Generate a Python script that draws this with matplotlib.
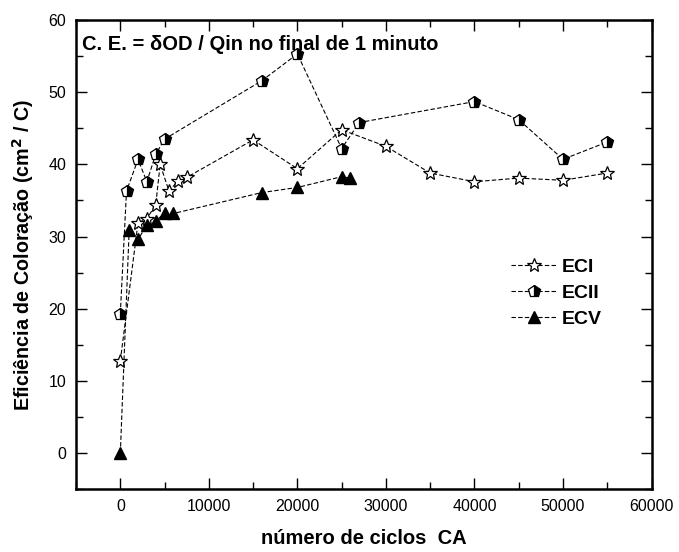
import matplotlib.pyplot as plt
from matplotlib.ticker import MultipleLocator

plt.rcParams['font.family'] = ['Liberation Sans', 'DejaVu Sans']

# ECI (stars)
eci_x = [0, 2000, 3000, 4000, 4500, 5500, 6500, 7500, 15000, 20000,
         25000, 30000, 35000, 40000, 45000, 50000, 55000]
eci_y = [12.8, 31.9, 32.5, 34.4, 40.0, 36.3, 37.7, 38.2, 43.4, 39.4,
         44.8, 42.5, 38.8, 37.6, 38.1, 37.8, 38.8]

# ECII (half filled pentagons)
ecii_x = [0, 700, 2000, 3000, 4000, 5000, 16000, 20000, 25000, 27000,
          40000, 45000, 50000, 55000]
ecii_y = [19.3, 36.3, 40.7, 37.6, 41.4, 43.5, 51.6, 55.3, 42.2, 45.8,
          48.7, 46.2, 40.7, 43.1]

# ECV (triangles)
ecv_x = [0, 1000, 2000, 3000, 4000, 5000, 6000, 16000, 20000, 25000, 26000]
ecv_y = [0.0, 30.9, 29.6, 31.6, 32.2, 33.2, 33.2, 36.1, 36.8, 38.3, 38.1]

fig = plt.figure(figsize=(6.79, 5.52), dpi=100)
ax = fig.add_axes([0.112, 0.1136, 0.8475, 0.8502])

dash = dict(color='black', lw=0.8, linestyle=(0, (4, 2)))
ax.plot(eci_x, eci_y, marker='*', ms=10, mfc='white', mec='black', mew=0.9,
        label='ECI', **dash)
ax.plot(ecii_x, ecii_y, marker='p', ms=9, fillstyle='right', mfc='black',
        mfcalt='white', mec='black', mew=0.9, label='ECII', **dash)
ax.plot(ecv_x, ecv_y, marker='^', ms=9, mfc='black', mec='black',
        label='ECV', **dash)

ax.set_xlim(-5000, 60000)
ax.set_ylim(-5, 60)
ax.xaxis.set_major_locator(MultipleLocator(10000))
ax.xaxis.set_minor_locator(MultipleLocator(5000))
ax.yaxis.set_major_locator(MultipleLocator(10))
ax.yaxis.set_minor_locator(MultipleLocator(5))
ax.tick_params(which='both', direction='in', top=True, right=True,
               labeltop=False, labelright=False, labelsize=11.5, width=1)
ax.tick_params(which='major', length=8, pad=7)
ax.tick_params(which='minor', length=5)
for s in ax.spines.values():
    s.set_linewidth(1.8)

ax.set_xlabel('número de ciclos  CA', fontsize=14.5, fontweight='bold',
              labelpad=11)
ax.set_ylabel('Eficiência de Coloração (cm$^\\mathbf{2}$ / C)', fontsize=14.2,
              fontweight='bold', labelpad=9)

ax.text(0.01, 0.936, 'C. E. = δOD / Qin no final de 1 minuto',
        transform=ax.transAxes, fontsize=14.5, fontweight='bold',
        va='baseline', ha='left')

leg = ax.legend(loc='center left', bbox_to_anchor=(0.726, 0.418),
                frameon=False, handlelength=2.3, handletextpad=0.3,
                labelspacing=0.45, prop={'weight': 'bold', 'size': 14})

fig.savefig('out.png', dpi=100)
